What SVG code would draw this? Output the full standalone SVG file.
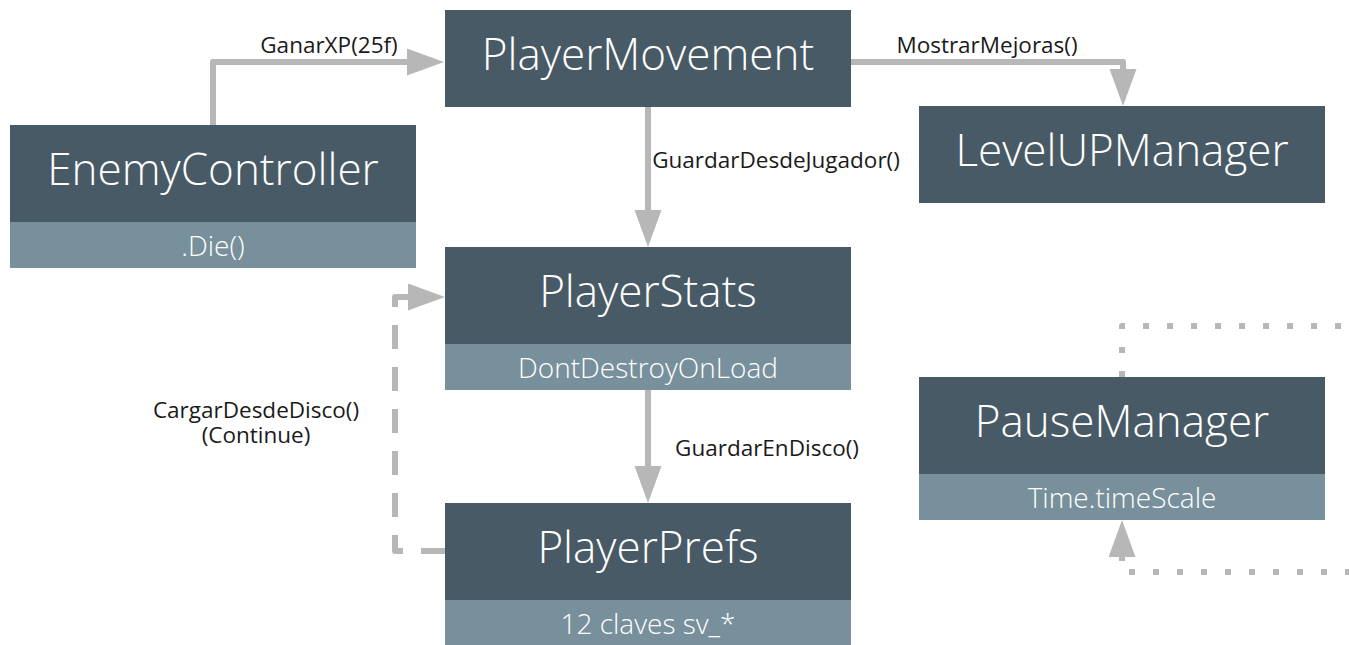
<svg xmlns="http://www.w3.org/2000/svg" width="1349" height="645" viewBox="0 0 1349 645">
  <style>
    .head { fill: #475a66; }
    .sub { fill: #78909c; }
    .title { font-family: "Open Sans", "Noto Sans", sans-serif; font-weight: 300; font-size: 44px; fill: #ffffff; text-anchor: middle; }
    .subtext { font-family: "Open Sans", "Noto Sans", sans-serif; font-weight: 300; font-size: 28px; fill: #ffffff; text-anchor: middle; }
    .edge { fill: none; stroke: #b7b7b7; stroke-width: 6; stroke-linejoin: round; }
    .dashed { stroke-dasharray: 24 18; }
    .dotted { stroke-dasharray: 6 18; }
    .label { font-family: "Open Sans", "Noto Sans", sans-serif; font-size: 22.5px; fill: #1a1a1a; text-anchor: middle; }
  </style>
  <defs>
    <marker id="arrow" markerUnits="userSpaceOnUse" markerWidth="38" markerHeight="28" refX="0" refY="13.5" orient="auto">
      <path d="M0,0 L37,13.5 L0,27 Z" fill="#b7b7b7"/>
    </marker>
  </defs>

  <rect width="1349" height="645" fill="#ffffff"/>

  <g id="connectors">
    <path class="edge" d="M213,125 V62 H407" marker-end="url(#arrow)"/>
    <path class="edge" d="M851,62 H1123 V69" marker-end="url(#arrow)"/>
    <path class="edge" d="M648,107 V210" marker-end="url(#arrow)"/>
    <path class="edge" d="M648,390 V466" marker-end="url(#arrow)"/>
    <path class="edge dashed" d="M445,551 H395 V297 H408" marker-end="url(#arrow)"/>
    <path class="edge dotted" d="M1122,377 V326 H1400 V572 H1122 V557" marker-end="url(#arrow)"/>
    <text class="label" x="329" y="53">GanarXP(25f)</text>
    <text class="label" x="987" y="53">MostrarMejoras()</text>
    <text class="label" x="776" y="168">GuardarDesdeJugador()</text>
    <text class="label" x="767" y="456">GuardarEnDisco()</text>
    <text class="label" x="256" y="418">CargarDesdeDisco()</text>
    <text class="label" x="256" y="443">(Continue)</text>
  </g>

  <g id="PlayerMovement">
    <rect class="head" x="445" y="10" width="406" height="97"/>
    <text class="title" x="648" y="70">PlayerMovement</text>
  </g>

  <g id="EnemyController">
    <rect class="head" x="10" y="125" width="406" height="97"/>
    <rect class="sub" x="10" y="222" width="406" height="46"/>
    <text class="title" x="213" y="185">EnemyController</text>
    <text class="subtext" x="213" y="256">.Die()</text>
  </g>

  <g id="LevelUPManager">
    <rect class="head" x="919" y="106" width="406" height="97"/>
    <text class="title" x="1122" y="166">LevelUPManager</text>
  </g>

  <g id="PlayerStats">
    <rect class="head" x="445" y="247" width="406" height="97"/>
    <rect class="sub" x="445" y="344" width="406" height="46"/>
    <text class="title" x="648" y="307">PlayerStats</text>
    <text class="subtext" x="648" y="378">DontDestroyOnLoad</text>
  </g>

  <g id="PlayerPrefs">
    <rect class="head" x="445" y="503" width="406" height="97"/>
    <rect class="sub" x="445" y="600" width="406" height="45"/>
    <text class="title" x="648" y="563">PlayerPrefs</text>
    <text class="subtext" x="648" y="634">12 claves sv_*</text>
  </g>

  <g id="PauseManager">
    <rect class="head" x="919" y="377" width="406" height="97"/>
    <rect class="sub" x="919" y="474" width="406" height="46"/>
    <text class="title" x="1122" y="437">PauseManager</text>
    <text class="subtext" x="1122" y="508">Time.timeScale</text>
  </g>
</svg>
